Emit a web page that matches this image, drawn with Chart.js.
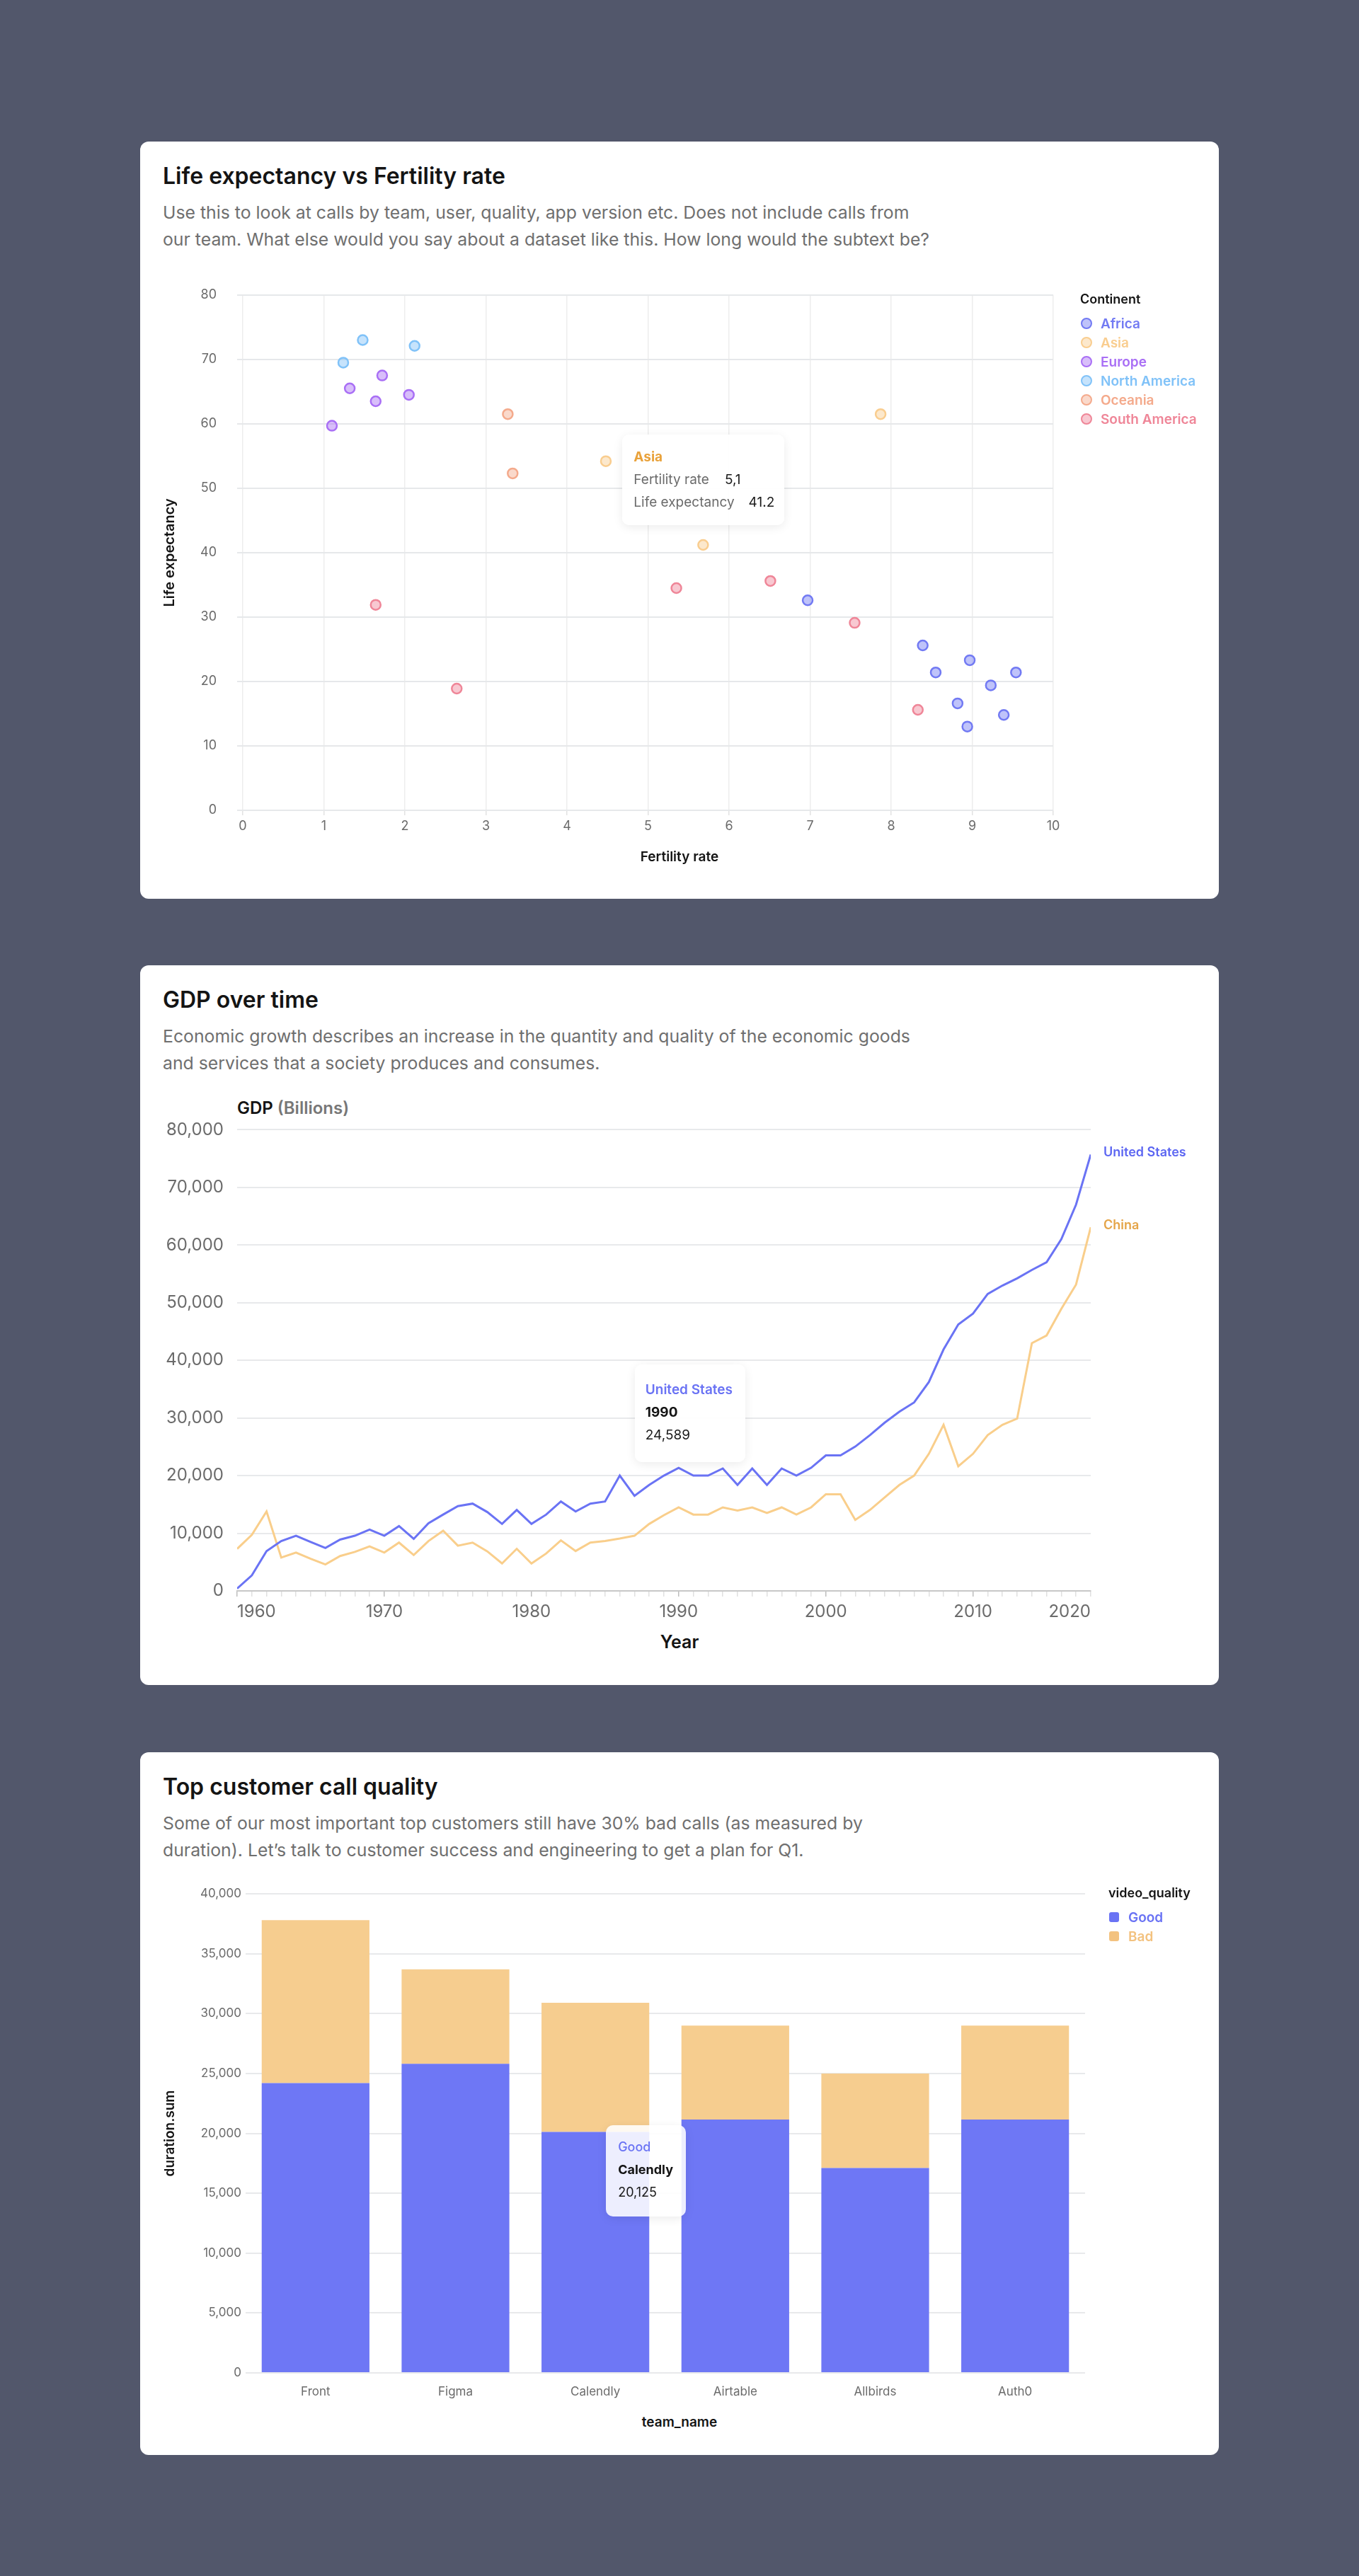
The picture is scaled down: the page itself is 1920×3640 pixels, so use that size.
<!DOCTYPE html>
<html>
<head>
<meta charset="utf-8">
<title>Dashboard charts</title>
<script src="https://cdn.jsdelivr.net/npm/chart.js@4.4.1/dist/chart.umd.min.js"></script>
<style>
  body { margin: 0; width: 1920px; height: 3640px; background: #52576b; font-family: Inter, 'Noto Sans', sans-serif; position: relative; overflow: hidden; }
  .card { position: absolute; left: 198px; width: 1524px; background: #fff; border-radius: 12px; }
  .card h2 { position: absolute; left: 32px; top: 29px; margin: 0; font-size: 32px; line-height: 40px; font-weight: 600; color: #141414; }
  .card p { position: absolute; left: 32px; top: 81px; margin: 0; font-size: 24.8px; line-height: 38px; color: #6f6f6f; white-space: nowrap; }
  .box { position: absolute; left: 0; }
  .xtitle { position: absolute; left: 0; width: 1524px; text-align: center; font-weight: 600; color: #141414; }
  .legend { position: absolute; font-weight: 600; }
  .legend .ttl { font-size: 18px; line-height: 27px; color: #141414; margin-bottom: 8px; }
  .legend .item { display: flex; align-items: center; height: 27px; font-size: 19px; }
  .legend .mk { box-sizing: border-box; margin-left: 1px; }
  .tip { position: absolute; box-sizing: border-box; background: rgba(255,255,255,0.93); border-radius: 10px; box-shadow: 0 3px 14px rgba(0,0,0,0.08); z-index: 2; white-space: nowrap; }
  .tip div { height: 32px; line-height: 32px; }
</style>
</head>
<body>

<div class="card" style="top:200px;height:1070px">
  <h2>Life expectancy vs Fertility rate</h2>
  <p>Use this to look at calls by team, user, quality, app version etc. Does not include calls from<br>our team. What else would you say about a dataset like this. How long would the subtext be?</p>
  <div class="box" style="top:177px"><canvas id="scatter" width="1524" height="823"></canvas></div>
  <div class="xtitle" style="top:999px;font-size:19px;line-height:24px">Fertility rate</div>
  <div class="legend" id="legend1" style="left:1328px;top:208.5px"></div>
  <div class="tip" id="tip1" style="width:229px;height:128px;padding:16px;font-size:19px">
    <div style="color:#e9a23b;font-weight:700">Asia</div>
    <div><span style="color:#6b6b6b">Fertility rate</span><span style="color:#1a1a1a;margin-left:22px">5,1</span></div>
    <div><span style="color:#6b6b6b">Life expectancy</span><span style="color:#1a1a1a;margin-left:20px">41.2</span></div>
  </div>
</div>

<div class="card" style="top:1364px;height:1017px">
  <h2>GDP over time</h2>
  <p>Economic growth describes an increase in the quantity and quality of the economic goods<br>and services that a society produces and consumes.</p>
  <div style="position:absolute;left:137px;top:187px;font-size:24px;line-height:30px;font-weight:600;color:#141414">GDP <span style="color:#777">(Billions)</span></div>
  <div class="box" style="top:199px"><canvas id="gdp" width="1524" height="737"></canvas></div>
  <div class="xtitle" style="top:940px;font-size:25px;line-height:32px">Year</div>
  <div class="tip" id="tip2" style="width:156px;height:138px;padding:20px 15px;font-size:19px">
    <div style="color:#6a73f4;font-weight:600">United States</div>
    <div style="color:#141414;font-weight:700">1990</div>
    <div style="color:#1a1a1a">24,589</div>
  </div>
</div>

<div class="card" style="top:2476px;height:993px">
  <h2>Top customer call quality</h2>
  <p>Some of our most important top customers still have 30% bad calls (as measured by<br>duration). Let’s talk to customer success and engineering to get a plan for Q1.</p>
  <div class="box" style="top:174px"><canvas id="bars" width="1524" height="745"></canvas></div>
  <div class="xtitle" style="top:935px;font-size:19px;line-height:24px">team_name</div>
  <div class="legend" id="legend3" style="left:1368px;top:184.5px"></div>
  <div class="tip" id="tip3" style="width:113px;height:129px;padding:15px 17px;font-size:18px;background:rgba(255,255,255,0.88)">
    <div style="color:#6a73f4;font-weight:500">Good</div>
    <div style="color:#141414;font-weight:700">Calendly</div>
    <div style="color:#1a1a1a">20,125</div>
  </div>
</div>

<script>
// chart 1 - life expectancy vs fertility
const continents = ['Africa', 'Asia', 'Europe', 'North America', 'Oceania', 'South America'];
const continentColors = ['#727af3', '#f9cd8f', '#a96ff5', '#80c2f8', '#f4aa8c', '#ef8698'];
const africaFertility = [6.97, 8.39, 8.55, 8.97, 9.23, 9.54, 8.82, 9.39, 8.94];
const africaLife = [32.6, 25.6, 21.4, 23.3, 19.4, 21.4, 16.6, 14.8, 13.0];
const asiaFertility = [7.87, 4.48, 5.68];
const asiaLife = [61.5, 54.2, 41.2];
const europeFertility = [1.72, 1.32, 2.05, 1.64, 1.10];
const europeLife = [67.5, 65.5, 64.5, 63.5, 59.7];
const northAmericaFertility = [1.48, 2.12, 1.24];
const northAmericaLife = [73.0, 72.1, 69.5];
const oceaniaFertility = [3.27, 3.33];
const oceaniaLife = [61.5, 52.3];
const southAmericaFertility = [1.64, 2.64, 5.35, 6.51, 7.55, 8.33];
const southAmericaLife = [31.9, 18.9, 34.5, 35.6, 29.1, 15.6];

// chart 2 - gdp
const years = [];
for (let y = 1960; y <= 2018; y++) years.push(y);
const usGdp = [400, 2700, 6900, 8650, 9570, 8500, 7450, 8900, 9570, 10650,
  9570, 11240, 9030, 11730, 13240, 14700, 15140, 13680, 11620, 14050,
  11620, 13240, 15510, 13780, 15140, 15510, 20000, 16490, 18380, 20000,
  21350, 20000, 20000, 21240, 18380, 21240, 18380, 21240, 20000, 21350,
  23510, 23510, 25030, 27030, 29190, 31080, 32700, 36220, 41890, 46220,
  48110, 51510, 52970, 54220, 55680, 57030, 61000, 67000, 75700];
const chinaGdp = [7300, 9730, 13780, 5780, 6650, 5570, 4590, 6050, 6760, 7730,
  6650, 8380, 6220, 8650, 10430, 7840, 8380, 6860, 4760, 7300,
  4760, 6490, 8760, 6920, 8380, 8650, 9080, 9570, 11620, 13140,
  14490, 13240, 13240, 14490, 13950, 14490, 13510, 14490, 13240, 14490,
  16760, 16760, 12320, 14050, 16220, 18380, 20000, 23780, 28810, 21620,
  23780, 27030, 28810, 29890, 42970, 44320, 48920, 53140, 63080];
const lastYearLabel = '2020';

// chart 3 - call quality
const teams = ['Front', 'Figma', 'Calendly', 'Airtable', 'Allbirds', 'Auth0'];
const goodDuration = [24200, 25800, 20125, 21150, 17100, 21150];
const badDuration = [13600, 7900, 10775, 7850, 7900, 7850];
const qualityNames = ['Good', 'Bad'];
const qualityColors = ['#6e77f5', '#f6cd8f'];

Chart.defaults.font.family = 'Inter, "Noto Sans", sans-serif';
Chart.defaults.color = '#6b6b6b';
Chart.defaults.animation = false;

function fade(hex, a) {
  let n = parseInt(hex.slice(1), 16);
  return `rgba(${n >> 16}, ${(n >> 8) & 255}, ${n & 255}, ${a})`;
}

// puts the html tooltip next to a data point
function tipAt(id, dsIndex, index, dx, dy) {
  return {
    id: 'tip_' + id,
    afterDraw(chart) {
      let el = document.getElementById(id);
      let pt = chart.getDatasetMeta(dsIndex).data[index];
      let top = chart.canvas.parentNode.offsetTop;
      el.style.left = (pt.x + dx) + 'px';
      el.style.top = (top + pt.y + dy) + 'px';
    }
  };
}

function buildLegend(id, title, names, colors, round) {
  let el = document.getElementById(id);
  let html = `<div class="ttl">${title}</div>`;
  names.forEach((name, i) => {
    let mk = round
      ? `width:16px;height:16px;border-radius:50%;border:2.5px solid ${colors[i]};background:${fade(colors[i], 0.45)};margin-right:12px`
      : `width:14px;height:14px;border-radius:3px;background:${colors[i]};margin-right:13px`;
    html += `<div class="item" style="color:${colors[i]}"><span class="mk" style="${mk}"></span>${name}</div>`;
  });
  el.innerHTML = html;
}

buildLegend('legend1', 'Continent', continents, continentColors, true);
buildLegend('legend3', 'video_quality', qualityNames, ['#6a73f4', '#f3c27f'], false);

const fertilityLists = [africaFertility, asiaFertility, europeFertility, northAmericaFertility, oceaniaFertility, southAmericaFertility];
const lifeLists = [africaLife, asiaLife, europeLife, northAmericaLife, oceaniaLife, southAmericaLife];

new Chart(document.getElementById('scatter'), {
  type: 'scatter',
  data: {
    datasets: continents.map((name, i) => ({
      label: name,
      data: fertilityLists[i].map((f, j) => ({ x: f, y: lifeLists[i][j] })),
      backgroundColor: fade(continentColors[i], 0.45),
      borderColor: continentColors[i],
      borderWidth: 2.5,
      pointRadius: 7
    }))
  },
  options: {
    responsive: false,
    layout: { padding: { top: 0, right: 234, left: 0, bottom: 0 } },
    plugins: { legend: { display: false }, tooltip: { enabled: false } },
    scales: {
      x: {
        type: 'linear', min: 0, max: 10,
        ticks: { stepSize: 1, padding: 5, font: { size: 18 } },
        grid: { color: '#ededed', lineWidth: 1.5, tickLength: 7, tickColor: '#e2e2e2' },
        border: { display: false },
        afterFit(s) { s.height = 55; }
      },
      y: {
        min: 0, max: 80,
        ticks: { stepSize: 10, padding: 29, font: { size: 18 } },
        grid: { color: '#e6e8ea', lineWidth: 2, tickLength: 8 },
        border: { display: false },
        title: { display: true, text: 'Life expectancy', color: '#141414', font: { size: 20, weight: '600' }, padding: { top: 30, bottom: 0 } },
        afterFit(s) { s.width = 145; }
      }
    }
  },
  plugins: [tipAt('tip1', 1, 2, -114, -156)]
});

// labels at the end of each line
const endLabelColors = ['#5c66f2', '#e5a549'];
const endLabels = {
  id: 'endLabels',
  afterDatasetsDraw(chart) {
    let ctx = chart.ctx;
    chart.data.datasets.forEach((ds, i) => {
      let pts = chart.getDatasetMeta(i).data;
      let p = pts[pts.length - 1];
      ctx.save();
      ctx.font = '600 18px Inter, "Noto Sans", sans-serif';
      ctx.fillStyle = endLabelColors[i];
      ctx.textBaseline = 'middle';
      ctx.fillText(ds.label, p.x + 18, p.y - 3);
      ctx.restore();
    });
  }
};

new Chart(document.getElementById('gdp'), {
  type: 'line',
  data: {
    datasets: [
      { label: 'United States', data: years.map((y, i) => ({ x: y, y: usGdp[i] })), borderColor: '#6a73f4', borderWidth: 3, pointRadius: 0 },
      { label: 'China', data: years.map((y, i) => ({ x: y, y: chinaGdp[i] })), borderColor: '#f9ce8b', borderWidth: 3, pointRadius: 0 }
    ]
  },
  options: {
    responsive: false,
    layout: { padding: { top: 0, right: 181, left: 0, bottom: 0 } },
    plugins: { legend: { display: false }, tooltip: { enabled: false } },
    scales: {
      x: {
        type: 'linear', min: years[0], max: years[years.length - 1],
        afterBuildTicks(axis) { axis.ticks = years.map(v => ({ value: v })); },
        ticks: {
          autoSkip: false, maxRotation: 0, align: 'inner', padding: 7, font: { size: 24 },
          callback(v, i, ticks) {
            if (i === ticks.length - 1) return lastYearLabel;
            return v % 10 === 0 ? String(v) : '';
          }
        },
        grid: {
          drawOnChartArea: false, tickLength: 8, lineWidth: 1.5,
          tickColor: c => (c.tick && c.tick.value % 10 === 0) ? '#bdbdbd' : '#e0e0e0'
        },
        border: { color: '#c8c8c8', width: 2 },
        afterFit(s) { s.height = 52; }
      },
      y: {
        min: 0, max: 80000,
        ticks: { stepSize: 10000, padding: 19, font: { size: 24 }, callback: v => v.toLocaleString('en-US') },
        grid: { color: '#e8e9eb', lineWidth: 2, drawTicks: false },
        border: { display: false },
        afterFit(s) { s.width = 137; }
      }
    }
  },
  plugins: [endLabels, tipAt('tip2', 0, years.indexOf(1990), -62, -146)]
});

new Chart(document.getElementById('bars'), {
  type: 'bar',
  data: {
    labels: teams,
    datasets: [
      { label: qualityNames[0], data: goodDuration, backgroundColor: qualityColors[0], barPercentage: 0.77, categoryPercentage: 1 },
      { label: qualityNames[1], data: badDuration, backgroundColor: qualityColors[1], barPercentage: 0.77, categoryPercentage: 1 }
    ]
  },
  options: {
    responsive: false,
    layout: { padding: { top: 26, right: 189, left: 0, bottom: 0 } },
    plugins: { legend: { display: false }, tooltip: { enabled: false } },
    scales: {
      x: {
        stacked: true,
        ticks: { padding: 9, font: { size: 17 } },
        grid: { display: false },
        border: { display: false },
        afterFit(s) { s.height = 42; }
      },
      y: {
        stacked: true, min: 0, max: 40000,
        ticks: { stepSize: 5000, padding: 6, font: { size: 17 }, callback: v => v.toLocaleString('en-US') },
        grid: { color: '#e8e9eb', lineWidth: 2, drawTicks: false },
        border: { display: false },
        title: { display: true, text: 'duration.sum', color: '#141414', font: { size: 19, weight: '600' }, padding: { top: 31, bottom: 0 } },
        afterFit(s) { s.width = 149; }
      }
    }
  },
  plugins: [tipAt('tip3', 0, 2, 15, -9)]
});
</script>
</body>
</html>
